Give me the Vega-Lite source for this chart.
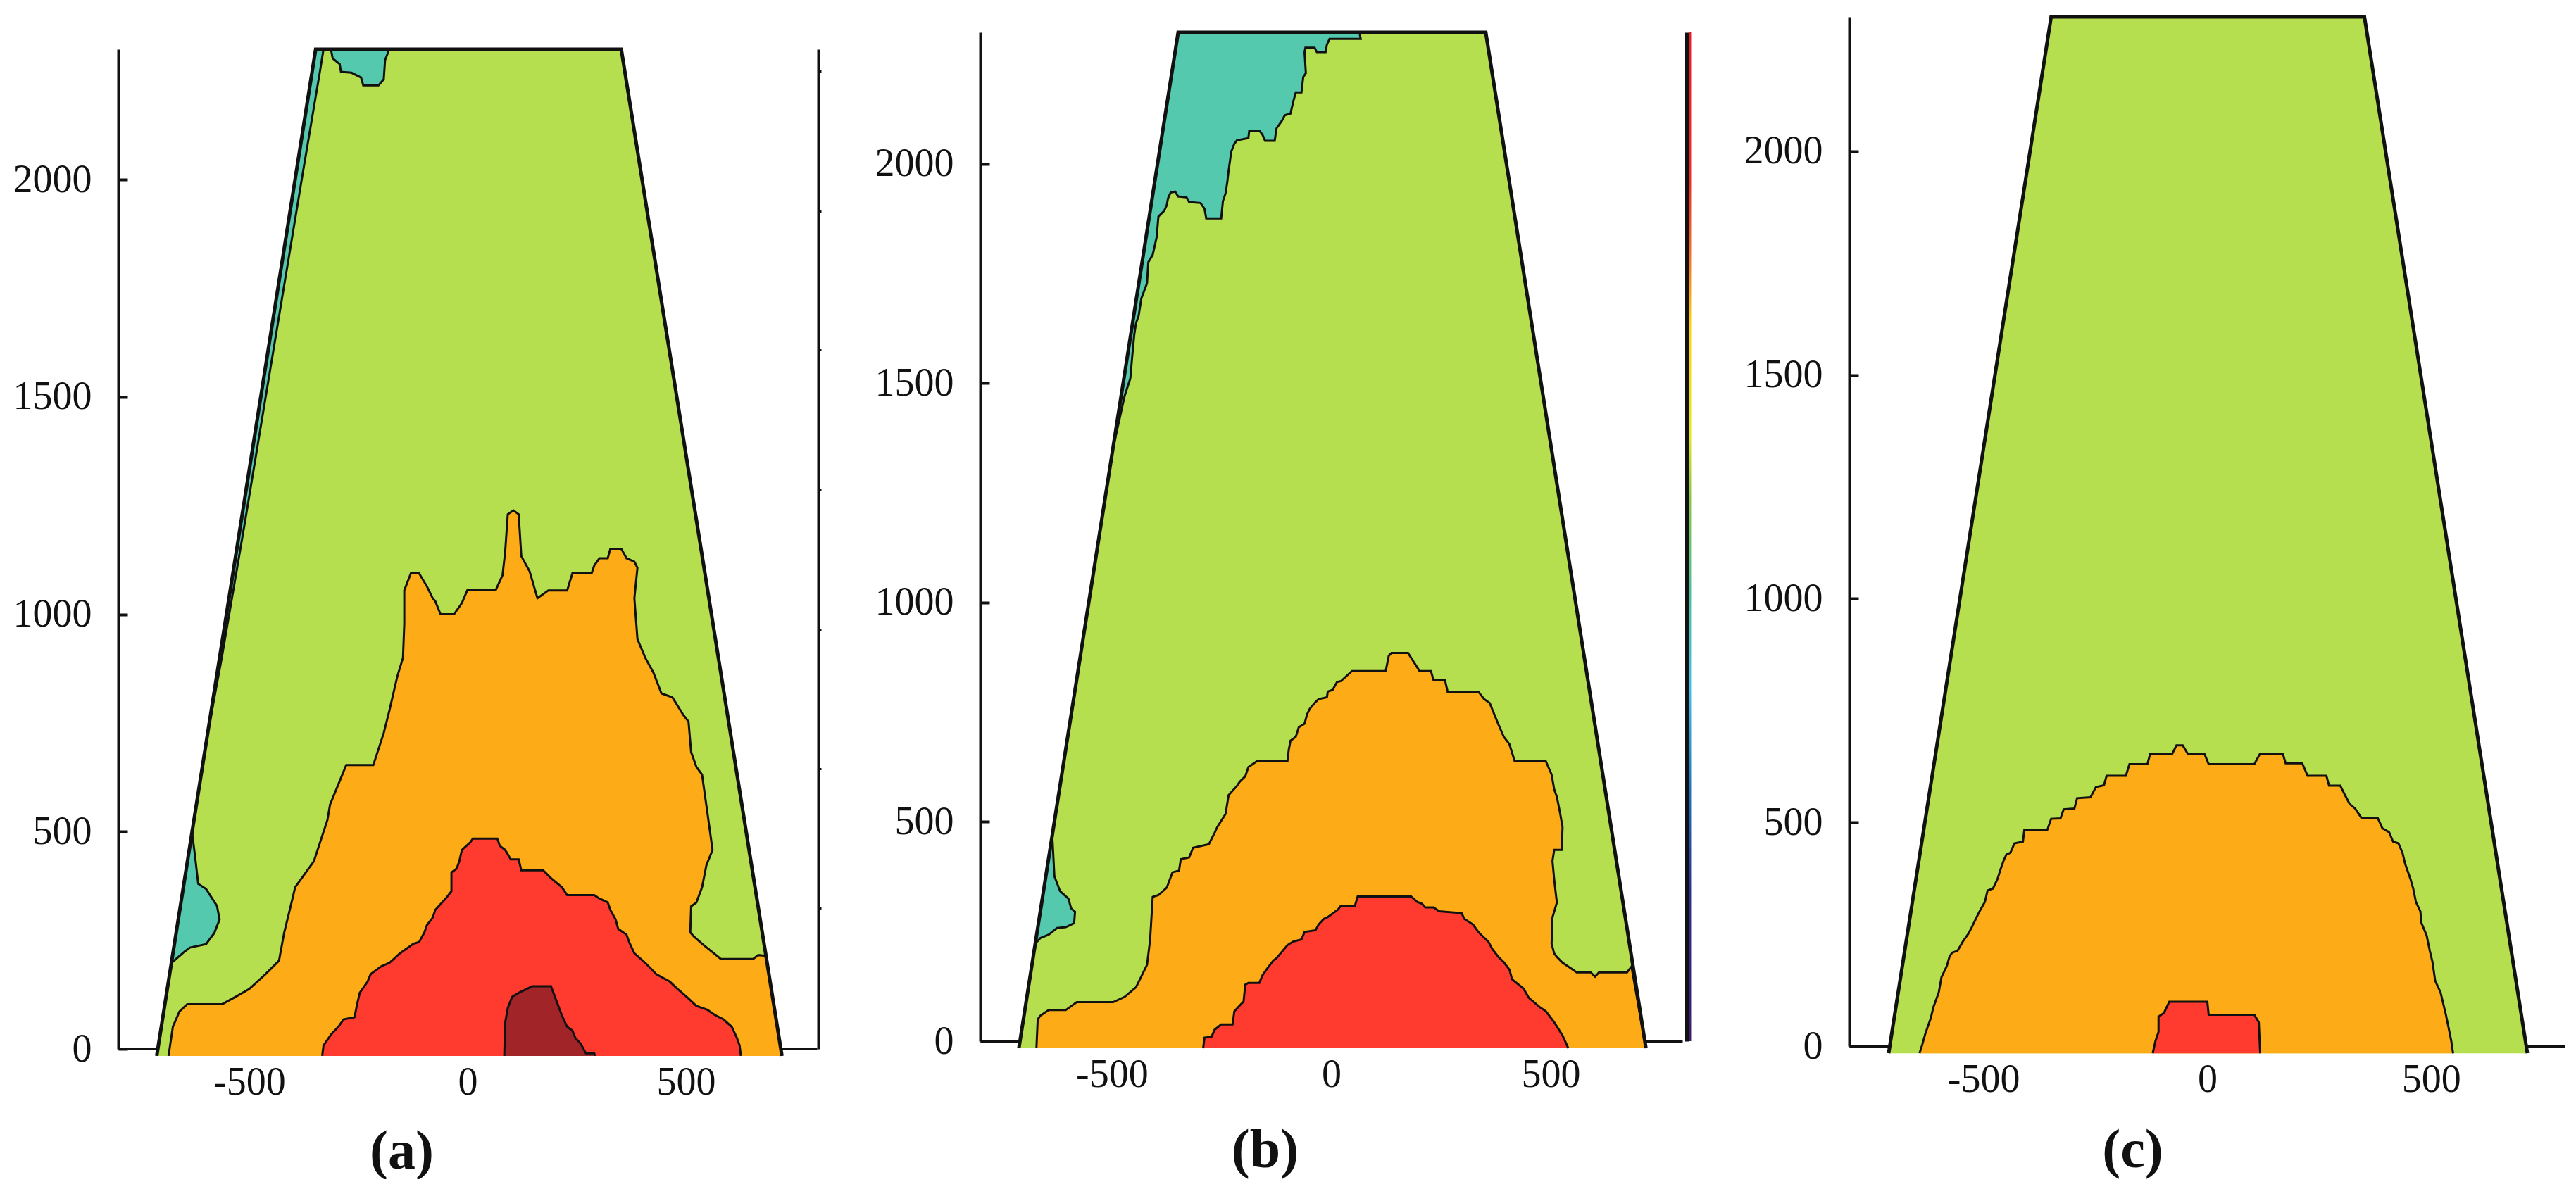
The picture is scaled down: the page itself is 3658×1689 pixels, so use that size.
{
"$schema": "https://vega.github.io/schema/vega-lite/v6.json",
"background": "white",
"padding": {"left": 18, "top": 12, "right": 0, "bottom": 0},
"spacing": 74,
"config": {"view": {"stroke": null}, "axis": {"grid": false, "labelFont": "Liberation Serif", "titleFont": "Liberation Serif", "labelColor": "#111", "titleColor": "#111", "domainColor": "#111", "tickColor": "#111"}},
"datasets": {
"A": [
{"p":"A0","l":"g","i":0,"x":-712,"y":-16},{"p":"A0","l":"g","i":1,"x":-348,"y":2300},{"p":"A0","l":"g","i":2,"x":352,"y":2300},{"p":"A0","l":"g","i":3,"x":720,"y":-16},
{"p":"A1","l":"t","i":0,"x":-348,"y":2300},{"p":"A1","l":"t","i":1,"x":-330,"y":2300},{"p":"A1","l":"t","i":2,"x":-338,"y":2250},{"p":"A1","l":"t","i":3,"x":-380,"y":2000},{"p":"A1","l":"t","i":4,"x":-446,"y":1600},{"p":"A1","l":"t","i":5,"x":-512,"y":1200},{"p":"A1","l":"t","i":6,"x":-563,"y":900},{"p":"A1","l":"t","i":7,"x":-600,"y":700},
{"p":"A2","l":"t","i":0,"x":-313,"y":2300},{"p":"A2","l":"t","i":1,"x":-309,"y":2279},{"p":"A2","l":"t","i":2,"x":-293,"y":2266},{"p":"A2","l":"t","i":3,"x":-290,"y":2248},{"p":"A2","l":"t","i":4,"x":-266,"y":2246},{"p":"A2","l":"t","i":5,"x":-244,"y":2235},{"p":"A2","l":"t","i":6,"x":-239,"y":2217},{"p":"A2","l":"t","i":7,"x":-204,"y":2217},{"p":"A2","l":"t","i":8,"x":-192,"y":2231},{"p":"A2","l":"t","i":9,"x":-189,"y":2275},{"p":"A2","l":"t","i":10,"x":-182,"y":2293},{"p":"A2","l":"t","i":11,"x":-182,"y":2300},
{"p":"A3","l":"t","i":0,"x":-632,"y":505},{"p":"A3","l":"t","i":1,"x":-625,"y":450},{"p":"A3","l":"t","i":2,"x":-617,"y":380},{"p":"A3","l":"t","i":3,"x":-599,"y":368},{"p":"A3","l":"t","i":4,"x":-574,"y":329},{"p":"A3","l":"t","i":5,"x":-568,"y":298},{"p":"A3","l":"t","i":6,"x":-580,"y":267},{"p":"A3","l":"t","i":7,"x":-599,"y":241},{"p":"A3","l":"t","i":8,"x":-636,"y":233},{"p":"A3","l":"t","i":9,"x":-648,"y":224},{"p":"A3","l":"t","i":10,"x":-678,"y":198},
{"p":"A4","l":"o","i":0,"x":-685,"y":-16},{"p":"A4","l":"o","i":1,"x":-675,"y":51},{"p":"A4","l":"o","i":2,"x":-660,"y":86},{"p":"A4","l":"o","i":3,"x":-642,"y":103},{"p":"A4","l":"o","i":4,"x":-562,"y":103},{"p":"A4","l":"o","i":5,"x":-531,"y":120},{"p":"A4","l":"o","i":6,"x":-500,"y":138},{"p":"A4","l":"o","i":7,"x":-463,"y":172},{"p":"A4","l":"o","i":8,"x":-432,"y":203},{"p":"A4","l":"o","i":9,"x":-420,"y":268},{"p":"A4","l":"o","i":10,"x":-401,"y":346},{"p":"A4","l":"o","i":11,"x":-395,"y":372},{"p":"A4","l":"o","i":12,"x":-352,"y":432},{"p":"A4","l":"o","i":13,"x":-321,"y":527},{"p":"A4","l":"o","i":14,"x":-315,"y":562},{"p":"A4","l":"o","i":15,"x":-278,"y":653},{"p":"A4","l":"o","i":16,"x":-216,"y":653},{"p":"A4","l":"o","i":17,"x":-192,"y":727},{"p":"A4","l":"o","i":18,"x":-179,"y":779},{"p":"A4","l":"o","i":19,"x":-161,"y":857},{"p":"A4","l":"o","i":20,"x":-148,"y":900},{"p":"A4","l":"o","i":21,"x":-145,"y":978},{"p":"A4","l":"o","i":22,"x":-145,"y":1055},{"p":"A4","l":"o","i":23,"x":-130,"y":1094},{"p":"A4","l":"o","i":24,"x":-111,"y":1094},{"p":"A4","l":"o","i":25,"x":-93,"y":1064},{"p":"A4","l":"o","i":26,"x":-80,"y":1037},{"p":"A4","l":"o","i":27,"x":-74,"y":1030},{"p":"A4","l":"o","i":28,"x":-62,"y":1000},{"p":"A4","l":"o","i":29,"x":-31,"y":1000},{"p":"A4","l":"o","i":30,"x":-13,"y":1026},{"p":"A4","l":"o","i":31,"x":0,"y":1057},{"p":"A4","l":"o","i":32,"x":65,"y":1057},{"p":"A4","l":"o","i":33,"x":80,"y":1090},{"p":"A4","l":"o","i":34,"x":86,"y":1143},{"p":"A4","l":"o","i":35,"x":92,"y":1230},{"p":"A4","l":"o","i":36,"x":105,"y":1239},{"p":"A4","l":"o","i":37,"x":117,"y":1230},{"p":"A4","l":"o","i":38,"x":123,"y":1134},{"p":"A4","l":"o","i":39,"x":142,"y":1099},{"p":"A4","l":"o","i":40,"x":160,"y":1037},{"p":"A4","l":"o","i":41,"x":185,"y":1055},{"p":"A4","l":"o","i":42,"x":228,"y":1055},{"p":"A4","l":"o","i":43,"x":240,"y":1094},{"p":"A4","l":"o","i":44,"x":284,"y":1094},{"p":"A4","l":"o","i":45,"x":290,"y":1112},{"p":"A4","l":"o","i":46,"x":302,"y":1129},{"p":"A4","l":"o","i":47,"x":321,"y":1129},{"p":"A4","l":"o","i":48,"x":327,"y":1151},{"p":"A4","l":"o","i":49,"x":352,"y":1151},{"p":"A4","l":"o","i":50,"x":364,"y":1129},{"p":"A4","l":"o","i":51,"x":382,"y":1121},{"p":"A4","l":"o","i":52,"x":389,"y":1107},{"p":"A4","l":"o","i":53,"x":382,"y":1037},{"p":"A4","l":"o","i":54,"x":389,"y":943},{"p":"A4","l":"o","i":55,"x":407,"y":900},{"p":"A4","l":"o","i":56,"x":426,"y":865},{"p":"A4","l":"o","i":57,"x":444,"y":818},{"p":"A4","l":"o","i":58,"x":469,"y":809},{"p":"A4","l":"o","i":59,"x":493,"y":770},{"p":"A4","l":"o","i":60,"x":506,"y":753},{"p":"A4","l":"o","i":61,"x":512,"y":683},{"p":"A4","l":"o","i":62,"x":524,"y":649},{"p":"A4","l":"o","i":63,"x":537,"y":631},{"p":"A4","l":"o","i":64,"x":543,"y":588},{"p":"A4","l":"o","i":65,"x":549,"y":545},{"p":"A4","l":"o","i":66,"x":561,"y":458},{"p":"A4","l":"o","i":67,"x":547,"y":423},{"p":"A4","l":"o","i":68,"x":537,"y":372},{"p":"A4","l":"o","i":69,"x":524,"y":337},{"p":"A4","l":"o","i":70,"x":512,"y":328},{"p":"A4","l":"o","i":71,"x":510,"y":268},{"p":"A4","l":"o","i":72,"x":518,"y":259},{"p":"A4","l":"o","i":73,"x":537,"y":242},{"p":"A4","l":"o","i":74,"x":580,"y":207},{"p":"A4","l":"o","i":75,"x":654,"y":207},{"p":"A4","l":"o","i":76,"x":666,"y":216},{"p":"A4","l":"o","i":77,"x":684,"y":214},{"p":"A4","l":"o","i":78,"x":720,"y":-16},
{"p":"A5","l":"r","i":0,"x":-333,"y":-16},{"p":"A5","l":"r","i":1,"x":-330,"y":8},{"p":"A5","l":"r","i":2,"x":-312,"y":34},{"p":"A5","l":"r","i":3,"x":-296,"y":51},{"p":"A5","l":"r","i":4,"x":-284,"y":68},{"p":"A5","l":"r","i":5,"x":-259,"y":73},{"p":"A5","l":"r","i":6,"x":-253,"y":103},{"p":"A5","l":"r","i":7,"x":-247,"y":129},{"p":"A5","l":"r","i":8,"x":-229,"y":155},{"p":"A5","l":"r","i":9,"x":-222,"y":172},{"p":"A5","l":"r","i":10,"x":-198,"y":190},{"p":"A5","l":"r","i":11,"x":-179,"y":198},{"p":"A5","l":"r","i":12,"x":-155,"y":220},{"p":"A5","l":"r","i":13,"x":-124,"y":242},{"p":"A5","l":"r","i":14,"x":-111,"y":246},{"p":"A5","l":"r","i":15,"x":-99,"y":268},{"p":"A5","l":"r","i":16,"x":-93,"y":285},{"p":"A5","l":"r","i":17,"x":-80,"y":302},{"p":"A5","l":"r","i":18,"x":-74,"y":320},{"p":"A5","l":"r","i":19,"x":-50,"y":346},{"p":"A5","l":"r","i":20,"x":-37,"y":363},{"p":"A5","l":"r","i":21,"x":-37,"y":406},{"p":"A5","l":"r","i":22,"x":-25,"y":415},{"p":"A5","l":"r","i":23,"x":-19,"y":432},{"p":"A5","l":"r","i":24,"x":-13,"y":458},{"p":"A5","l":"r","i":25,"x":6,"y":475},{"p":"A5","l":"r","i":26,"x":12,"y":484},{"p":"A5","l":"r","i":27,"x":68,"y":484},{"p":"A5","l":"r","i":28,"x":74,"y":467},{"p":"A5","l":"r","i":29,"x":86,"y":458},{"p":"A5","l":"r","i":30,"x":99,"y":436},{"p":"A5","l":"r","i":31,"x":117,"y":436},{"p":"A5","l":"r","i":32,"x":123,"y":411},{"p":"A5","l":"r","i":33,"x":173,"y":411},{"p":"A5","l":"r","i":34,"x":191,"y":393},{"p":"A5","l":"r","i":35,"x":216,"y":372},{"p":"A5","l":"r","i":36,"x":228,"y":354},{"p":"A5","l":"r","i":37,"x":290,"y":354},{"p":"A5","l":"r","i":38,"x":302,"y":346},{"p":"A5","l":"r","i":39,"x":321,"y":337},{"p":"A5","l":"r","i":40,"x":327,"y":320},{"p":"A5","l":"r","i":41,"x":339,"y":298},{"p":"A5","l":"r","i":42,"x":345,"y":276},{"p":"A5","l":"r","i":43,"x":364,"y":263},{"p":"A5","l":"r","i":44,"x":370,"y":246},{"p":"A5","l":"r","i":45,"x":382,"y":220},{"p":"A5","l":"r","i":46,"x":407,"y":198},{"p":"A5","l":"r","i":47,"x":432,"y":172},{"p":"A5","l":"r","i":48,"x":463,"y":155},{"p":"A5","l":"r","i":49,"x":481,"y":138},{"p":"A5","l":"r","i":50,"x":506,"y":116},{"p":"A5","l":"r","i":51,"x":524,"y":99},{"p":"A5","l":"r","i":52,"x":549,"y":90},{"p":"A5","l":"r","i":53,"x":568,"y":77},{"p":"A5","l":"r","i":54,"x":586,"y":68},{"p":"A5","l":"r","i":55,"x":605,"y":51},{"p":"A5","l":"r","i":56,"x":617,"y":25},{"p":"A5","l":"r","i":57,"x":623,"y":8},{"p":"A5","l":"r","i":58,"x":626,"y":-16},
{"p":"A6","l":"d","i":0,"x":84,"y":-16},{"p":"A6","l":"d","i":1,"x":86,"y":60},{"p":"A6","l":"d","i":2,"x":92,"y":94},{"p":"A6","l":"d","i":3,"x":102,"y":120},{"p":"A6","l":"d","i":4,"x":117,"y":129},{"p":"A6","l":"d","i":5,"x":148,"y":144},{"p":"A6","l":"d","i":6,"x":191,"y":144},{"p":"A6","l":"d","i":7,"x":203,"y":112},{"p":"A6","l":"d","i":8,"x":216,"y":77},{"p":"A6","l":"d","i":9,"x":228,"y":51},{"p":"A6","l":"d","i":10,"x":240,"y":42},{"p":"A6","l":"d","i":11,"x":247,"y":25},{"p":"A6","l":"d","i":12,"x":259,"y":12},{"p":"A6","l":"d","i":13,"x":271,"y":-10},{"p":"A6","l":"d","i":14,"x":290,"y":-10},{"p":"A6","l":"d","i":15,"x":292,"y":-16}
],
"B": [
{"p":"B0","l":"g","i":0,"x":-712,"y":-16},{"p":"B0","l":"g","i":1,"x":-349,"y":2300},{"p":"B0","l":"g","i":2,"x":352,"y":2300},{"p":"B0","l":"g","i":3,"x":717,"y":-16},
{"p":"B1","l":"t","i":0,"x":-349,"y":2300},{"p":"B1","l":"t","i":1,"x":64,"y":2300},{"p":"B1","l":"t","i":2,"x":67,"y":2285},{"p":"B1","l":"t","i":3,"x":-4,"y":2285},{"p":"B1","l":"t","i":4,"x":-10,"y":2272},{"p":"B1","l":"t","i":5,"x":-13,"y":2255},{"p":"B1","l":"t","i":6,"x":-33,"y":2255},{"p":"B1","l":"t","i":7,"x":-38,"y":2265},{"p":"B1","l":"t","i":8,"x":-59,"y":2265},{"p":"B1","l":"t","i":9,"x":-61,"y":2255},{"p":"B1","l":"t","i":10,"x":-58,"y":2207},{"p":"B1","l":"t","i":11,"x":-64,"y":2198},{"p":"B1","l":"t","i":12,"x":-68,"y":2163},{"p":"B1","l":"t","i":13,"x":-81,"y":2163},{"p":"B1","l":"t","i":14,"x":-87,"y":2141},{"p":"B1","l":"t","i":15,"x":-93,"y":2115},{"p":"B1","l":"t","i":16,"x":-106,"y":2111},{"p":"B1","l":"t","i":17,"x":-113,"y":2098},{"p":"B1","l":"t","i":18,"x":-125,"y":2081},{"p":"B1","l":"t","i":19,"x":-129,"y":2053},{"p":"B1","l":"t","i":20,"x":-151,"y":2053},{"p":"B1","l":"t","i":21,"x":-157,"y":2067},{"p":"B1","l":"t","i":22,"x":-164,"y":2076},{"p":"B1","l":"t","i":23,"x":-187,"y":2076},{"p":"B1","l":"t","i":24,"x":-189,"y":2059},{"p":"B1","l":"t","i":25,"x":-215,"y":2054},{"p":"B1","l":"t","i":26,"x":-221,"y":2046},{"p":"B1","l":"t","i":27,"x":-228,"y":2028},{"p":"B1","l":"t","i":28,"x":-234,"y":1985},{"p":"B1","l":"t","i":29,"x":-237,"y":1959},{"p":"B1","l":"t","i":30,"x":-241,"y":1933},{"p":"B1","l":"t","i":31,"x":-247,"y":1915},{"p":"B1","l":"t","i":32,"x":-251,"y":1876},{"p":"B1","l":"t","i":33,"x":-285,"y":1876},{"p":"B1","l":"t","i":34,"x":-289,"y":1898},{"p":"B1","l":"t","i":35,"x":-298,"y":1911},{"p":"B1","l":"t","i":36,"x":-324,"y":1913},{"p":"B1","l":"t","i":37,"x":-330,"y":1924},{"p":"B1","l":"t","i":38,"x":-349,"y":1926},{"p":"B1","l":"t","i":39,"x":-356,"y":1937},{"p":"B1","l":"t","i":40,"x":-366,"y":1935},{"p":"B1","l":"t","i":41,"x":-372,"y":1922},{"p":"B1","l":"t","i":42,"x":-375,"y":1906},{"p":"B1","l":"t","i":43,"x":-381,"y":1893},{"p":"B1","l":"t","i":44,"x":-394,"y":1880},{"p":"B1","l":"t","i":45,"x":-398,"y":1833},{"p":"B1","l":"t","i":46,"x":-407,"y":1793},{"p":"B1","l":"t","i":47,"x":-417,"y":1776},{"p":"B1","l":"t","i":48,"x":-420,"y":1728},{"p":"B1","l":"t","i":49,"x":-433,"y":1693},{"p":"B1","l":"t","i":50,"x":-439,"y":1654},{"p":"B1","l":"t","i":51,"x":-445,"y":1637},{"p":"B1","l":"t","i":52,"x":-449,"y":1611},{"p":"B1","l":"t","i":53,"x":-454,"y":1558},{"p":"B1","l":"t","i":54,"x":-458,"y":1511},{"p":"B1","l":"t","i":55,"x":-471,"y":1471},{"p":"B1","l":"t","i":56,"x":-500,"y":1340},
{"p":"B2","l":"t","i":0,"x":-636,"y":471},{"p":"B2","l":"t","i":1,"x":-631,"y":376},{"p":"B2","l":"t","i":2,"x":-618,"y":342},{"p":"B2","l":"t","i":3,"x":-599,"y":325},{"p":"B2","l":"t","i":4,"x":-593,"y":303},{"p":"B2","l":"t","i":5,"x":-584,"y":295},{"p":"B2","l":"t","i":6,"x":-586,"y":269},{"p":"B2","l":"t","i":7,"x":-605,"y":260},{"p":"B2","l":"t","i":8,"x":-625,"y":258},{"p":"B2","l":"t","i":9,"x":-644,"y":243},{"p":"B2","l":"t","i":10,"x":-663,"y":235},{"p":"B2","l":"t","i":11,"x":-675,"y":222},
{"p":"B3","l":"o","i":0,"x":-672,"y":-16},{"p":"B3","l":"o","i":1,"x":-669,"y":50},{"p":"B3","l":"o","i":2,"x":-663,"y":58},{"p":"B3","l":"o","i":3,"x":-644,"y":71},{"p":"B3","l":"o","i":4,"x":-605,"y":71},{"p":"B3","l":"o","i":5,"x":-580,"y":89},{"p":"B3","l":"o","i":6,"x":-497,"y":89},{"p":"B3","l":"o","i":7,"x":-471,"y":101},{"p":"B3","l":"o","i":8,"x":-445,"y":123},{"p":"B3","l":"o","i":9,"x":-420,"y":174},{"p":"B3","l":"o","i":10,"x":-413,"y":230},{"p":"B3","l":"o","i":11,"x":-407,"y":329},{"p":"B3","l":"o","i":12,"x":-394,"y":333},{"p":"B3","l":"o","i":13,"x":-375,"y":350},{"p":"B3","l":"o","i":14,"x":-362,"y":385},{"p":"B3","l":"o","i":15,"x":-347,"y":389},{"p":"B3","l":"o","i":16,"x":-343,"y":415},{"p":"B3","l":"o","i":17,"x":-324,"y":419},{"p":"B3","l":"o","i":18,"x":-315,"y":441},{"p":"B3","l":"o","i":19,"x":-279,"y":449},{"p":"B3","l":"o","i":20,"x":-266,"y":475},{"p":"B3","l":"o","i":21,"x":-260,"y":488},{"p":"B3","l":"o","i":22,"x":-241,"y":518},{"p":"B3","l":"o","i":23,"x":-234,"y":561},{"p":"B3","l":"o","i":24,"x":-215,"y":582},{"p":"B3","l":"o","i":25,"x":-209,"y":591},{"p":"B3","l":"o","i":26,"x":-196,"y":604},{"p":"B3","l":"o","i":27,"x":-189,"y":625},{"p":"B3","l":"o","i":28,"x":-170,"y":638},{"p":"B3","l":"o","i":29,"x":-100,"y":638},{"p":"B3","l":"o","i":30,"x":-97,"y":664},{"p":"B3","l":"o","i":31,"x":-93,"y":685},{"p":"B3","l":"o","i":32,"x":-81,"y":694},{"p":"B3","l":"o","i":33,"x":-74,"y":716},{"p":"B3","l":"o","i":34,"x":-61,"y":724},{"p":"B3","l":"o","i":35,"x":-55,"y":746},{"p":"B3","l":"o","i":36,"x":-49,"y":758},{"p":"B3","l":"o","i":37,"x":-36,"y":773},{"p":"B3","l":"o","i":38,"x":-29,"y":780},{"p":"B3","l":"o","i":39,"x":-10,"y":784},{"p":"B3","l":"o","i":40,"x":-8,"y":797},{"p":"B3","l":"o","i":41,"x":3,"y":801},{"p":"B3","l":"o","i":42,"x":13,"y":819},{"p":"B3","l":"o","i":43,"x":22,"y":821},{"p":"B3","l":"o","i":44,"x":47,"y":844},{"p":"B3","l":"o","i":45,"x":124,"y":844},{"p":"B3","l":"o","i":46,"x":131,"y":879},{"p":"B3","l":"o","i":47,"x":137,"y":885},{"p":"B3","l":"o","i":48,"x":175,"y":885},{"p":"B3","l":"o","i":49,"x":182,"y":874},{"p":"B3","l":"o","i":50,"x":201,"y":844},{"p":"B3","l":"o","i":51,"x":227,"y":844},{"p":"B3","l":"o","i":52,"x":233,"y":823},{"p":"B3","l":"o","i":53,"x":259,"y":823},{"p":"B3","l":"o","i":54,"x":265,"y":797},{"p":"B3","l":"o","i":55,"x":335,"y":797},{"p":"B3","l":"o","i":56,"x":348,"y":780},{"p":"B3","l":"o","i":57,"x":361,"y":771},{"p":"B3","l":"o","i":58,"x":380,"y":724},{"p":"B3","l":"o","i":59,"x":393,"y":694},{"p":"B3","l":"o","i":60,"x":406,"y":677},{"p":"B3","l":"o","i":61,"x":418,"y":638},{"p":"B3","l":"o","i":62,"x":489,"y":638},{"p":"B3","l":"o","i":63,"x":502,"y":608},{"p":"B3","l":"o","i":64,"x":508,"y":574},{"p":"B3","l":"o","i":65,"x":514,"y":557},{"p":"B3","l":"o","i":66,"x":521,"y":522},{"p":"B3","l":"o","i":67,"x":527,"y":488},{"p":"B3","l":"o","i":68,"x":525,"y":436},{"p":"B3","l":"o","i":69,"x":508,"y":436},{"p":"B3","l":"o","i":70,"x":504,"y":411},{"p":"B3","l":"o","i":71,"x":508,"y":368},{"p":"B3","l":"o","i":72,"x":514,"y":316},{"p":"B3","l":"o","i":73,"x":504,"y":282},{"p":"B3","l":"o","i":74,"x":502,"y":222},{"p":"B3","l":"o","i":75,"x":508,"y":200},{"p":"B3","l":"o","i":76,"x":514,"y":192},{"p":"B3","l":"o","i":77,"x":527,"y":179},{"p":"B3","l":"o","i":78,"x":546,"y":166},{"p":"B3","l":"o","i":79,"x":559,"y":157},{"p":"B3","l":"o","i":80,"x":591,"y":157},{"p":"B3","l":"o","i":81,"x":601,"y":147},{"p":"B3","l":"o","i":82,"x":610,"y":157},{"p":"B3","l":"o","i":83,"x":674,"y":157},{"p":"B3","l":"o","i":84,"x":684,"y":170},{"p":"B3","l":"o","i":85,"x":717,"y":-16},
{"p":"B4","l":"r","i":0,"x":-292,"y":-16},{"p":"B4","l":"r","i":1,"x":-289,"y":8},{"p":"B4","l":"r","i":2,"x":-273,"y":10},{"p":"B4","l":"r","i":3,"x":-266,"y":26},{"p":"B4","l":"r","i":4,"x":-251,"y":38},{"p":"B4","l":"r","i":5,"x":-225,"y":38},{"p":"B4","l":"r","i":6,"x":-221,"y":68},{"p":"B4","l":"r","i":7,"x":-209,"y":81},{"p":"B4","l":"r","i":8,"x":-200,"y":90},{"p":"B4","l":"r","i":9,"x":-196,"y":129},{"p":"B4","l":"r","i":10,"x":-189,"y":133},{"p":"B4","l":"r","i":11,"x":-164,"y":133},{"p":"B4","l":"r","i":12,"x":-157,"y":150},{"p":"B4","l":"r","i":13,"x":-145,"y":167},{"p":"B4","l":"r","i":14,"x":-132,"y":184},{"p":"B4","l":"r","i":15,"x":-125,"y":189},{"p":"B4","l":"r","i":16,"x":-100,"y":219},{"p":"B4","l":"r","i":17,"x":-87,"y":227},{"p":"B4","l":"r","i":18,"x":-68,"y":232},{"p":"B4","l":"r","i":19,"x":-61,"y":249},{"p":"B4","l":"r","i":20,"x":-36,"y":253},{"p":"B4","l":"r","i":21,"x":-29,"y":266},{"p":"B4","l":"r","i":22,"x":-17,"y":279},{"p":"B4","l":"r","i":23,"x":-8,"y":283},{"p":"B4","l":"r","i":24,"x":15,"y":300},{"p":"B4","l":"r","i":25,"x":22,"y":309},{"p":"B4","l":"r","i":26,"x":54,"y":309},{"p":"B4","l":"r","i":27,"x":60,"y":330},{"p":"B4","l":"r","i":28,"x":182,"y":330},{"p":"B4","l":"r","i":29,"x":195,"y":318},{"p":"B4","l":"r","i":30,"x":207,"y":313},{"p":"B4","l":"r","i":31,"x":214,"y":305},{"p":"B4","l":"r","i":32,"x":233,"y":305},{"p":"B4","l":"r","i":33,"x":246,"y":296},{"p":"B4","l":"r","i":34,"x":297,"y":292},{"p":"B4","l":"r","i":35,"x":303,"y":279},{"p":"B4","l":"r","i":36,"x":323,"y":266},{"p":"B4","l":"r","i":37,"x":335,"y":249},{"p":"B4","l":"r","i":38,"x":348,"y":236},{"p":"B4","l":"r","i":39,"x":358,"y":227},{"p":"B4","l":"r","i":40,"x":367,"y":210},{"p":"B4","l":"r","i":41,"x":380,"y":193},{"p":"B4","l":"r","i":42,"x":393,"y":180},{"p":"B4","l":"r","i":43,"x":406,"y":163},{"p":"B4","l":"r","i":44,"x":412,"y":141},{"p":"B4","l":"r","i":45,"x":438,"y":120},{"p":"B4","l":"r","i":46,"x":450,"y":99},{"p":"B4","l":"r","i":47,"x":476,"y":77},{"p":"B4","l":"r","i":48,"x":489,"y":68},{"p":"B4","l":"r","i":49,"x":508,"y":43},{"p":"B4","l":"r","i":50,"x":527,"y":13},{"p":"B4","l":"r","i":51,"x":540,"y":-16}
],
"C": [
{"p":"C0","l":"g","i":0,"x":-712,"y":-16},{"p":"C0","l":"g","i":1,"x":-349,"y":2300},{"p":"C0","l":"g","i":2,"x":351,"y":2300},{"p":"C0","l":"g","i":3,"x":715,"y":-16},
{"p":"C1","l":"o","i":0,"x":-643,"y":-16},{"p":"C1","l":"o","i":1,"x":-637,"y":3},{"p":"C1","l":"o","i":2,"x":-630,"y":28},{"p":"C1","l":"o","i":3,"x":-618,"y":62},{"p":"C1","l":"o","i":4,"x":-612,"y":87},{"p":"C1","l":"o","i":5,"x":-600,"y":120},{"p":"C1","l":"o","i":6,"x":-594,"y":154},{"p":"C1","l":"o","i":7,"x":-582,"y":179},{"p":"C1","l":"o","i":8,"x":-576,"y":200},{"p":"C1","l":"o","i":9,"x":-570,"y":209},{"p":"C1","l":"o","i":10,"x":-558,"y":213},{"p":"C1","l":"o","i":11,"x":-546,"y":234},{"p":"C1","l":"o","i":12,"x":-534,"y":251},{"p":"C1","l":"o","i":13,"x":-527,"y":264},{"p":"C1","l":"o","i":14,"x":-515,"y":289},{"p":"C1","l":"o","i":15,"x":-509,"y":301},{"p":"C1","l":"o","i":16,"x":-497,"y":322},{"p":"C1","l":"o","i":17,"x":-491,"y":348},{"p":"C1","l":"o","i":18,"x":-479,"y":352},{"p":"C1","l":"o","i":19,"x":-469,"y":373},{"p":"C1","l":"o","i":20,"x":-461,"y":398},{"p":"C1","l":"o","i":21,"x":-455,"y":415},{"p":"C1","l":"o","i":22,"x":-449,"y":428},{"p":"C1","l":"o","i":23,"x":-440,"y":432},{"p":"C1","l":"o","i":24,"x":-431,"y":453},{"p":"C1","l":"o","i":25,"x":-412,"y":457},{"p":"C1","l":"o","i":26,"x":-409,"y":482},{"p":"C1","l":"o","i":27,"x":-358,"y":482},{"p":"C1","l":"o","i":28,"x":-349,"y":508},{"p":"C1","l":"o","i":29,"x":-328,"y":509},{"p":"C1","l":"o","i":30,"x":-321,"y":529},{"p":"C1","l":"o","i":31,"x":-297,"y":531},{"p":"C1","l":"o","i":32,"x":-291,"y":554},{"p":"C1","l":"o","i":33,"x":-261,"y":556},{"p":"C1","l":"o","i":34,"x":-249,"y":579},{"p":"C1","l":"o","i":35,"x":-231,"y":583},{"p":"C1","l":"o","i":36,"x":-225,"y":604},{"p":"C1","l":"o","i":37,"x":-182,"y":604},{"p":"C1","l":"o","i":38,"x":-174,"y":630},{"p":"C1","l":"o","i":39,"x":-134,"y":630},{"p":"C1","l":"o","i":40,"x":-128,"y":652},{"p":"C1","l":"o","i":41,"x":-79,"y":652},{"p":"C1","l":"o","i":42,"x":-69,"y":672},{"p":"C1","l":"o","i":43,"x":-55,"y":672},{"p":"C1","l":"o","i":44,"x":-43,"y":652},{"p":"C1","l":"o","i":45,"x":-6,"y":652},{"p":"C1","l":"o","i":46,"x":3,"y":630},{"p":"C1","l":"o","i":47,"x":105,"y":630},{"p":"C1","l":"o","i":48,"x":117,"y":652},{"p":"C1","l":"o","i":49,"x":169,"y":652},{"p":"C1","l":"o","i":50,"x":175,"y":632},{"p":"C1","l":"o","i":51,"x":212,"y":632},{"p":"C1","l":"o","i":52,"x":224,"y":604},{"p":"C1","l":"o","i":53,"x":266,"y":604},{"p":"C1","l":"o","i":54,"x":272,"y":582},{"p":"C1","l":"o","i":55,"x":297,"y":582},{"p":"C1","l":"o","i":56,"x":309,"y":558},{"p":"C1","l":"o","i":57,"x":318,"y":541},{"p":"C1","l":"o","i":58,"x":330,"y":531},{"p":"C1","l":"o","i":59,"x":345,"y":509},{"p":"C1","l":"o","i":60,"x":381,"y":509},{"p":"C1","l":"o","i":61,"x":391,"y":487},{"p":"C1","l":"o","i":62,"x":406,"y":478},{"p":"C1","l":"o","i":63,"x":415,"y":457},{"p":"C1","l":"o","i":64,"x":427,"y":453},{"p":"C1","l":"o","i":65,"x":436,"y":432},{"p":"C1","l":"o","i":66,"x":442,"y":407},{"p":"C1","l":"o","i":67,"x":454,"y":373},{"p":"C1","l":"o","i":68,"x":460,"y":352},{"p":"C1","l":"o","i":69,"x":466,"y":322},{"p":"C1","l":"o","i":70,"x":476,"y":301},{"p":"C1","l":"o","i":71,"x":478,"y":276},{"p":"C1","l":"o","i":72,"x":490,"y":247},{"p":"C1","l":"o","i":73,"x":497,"y":213},{"p":"C1","l":"o","i":74,"x":503,"y":188},{"p":"C1","l":"o","i":75,"x":509,"y":146},{"p":"C1","l":"o","i":76,"x":521,"y":120},{"p":"C1","l":"o","i":77,"x":533,"y":70},{"p":"C1","l":"o","i":78,"x":539,"y":41},{"p":"C1","l":"o","i":79,"x":545,"y":11},{"p":"C1","l":"o","i":80,"x":549,"y":-16},
{"p":"C2","l":"r","i":0,"x":-122,"y":-16},{"p":"C2","l":"r","i":1,"x":-116,"y":11},{"p":"C2","l":"r","i":2,"x":-109,"y":32},{"p":"C2","l":"r","i":3,"x":-109,"y":66},{"p":"C2","l":"r","i":4,"x":-97,"y":74},{"p":"C2","l":"r","i":5,"x":-85,"y":99},{"p":"C2","l":"r","i":6,"x":0,"y":99},{"p":"C2","l":"r","i":7,"x":3,"y":70},{"p":"C2","l":"r","i":8,"x":105,"y":70},{"p":"C2","l":"r","i":9,"x":115,"y":53},{"p":"C2","l":"r","i":10,"x":118,"y":-16}
]
},
"hconcat": [
{"spacing": 0, "vconcat": [
{"width": 10, "height": 48, "data": {"values": []}, "mark": "point"},
{
"width": 992, "height": 1420,
"data": {"name": "A"},
"resolve": {"axis": {"y": "independent"}},
"layer": [
{"transform": [{"filter": "datum.l === 'g'"}], "mark": {"type": "line", "fill": "#B5DF4F", "strokeOpacity": 0, "clip": false},
 "encoding": {"x": {"field": "x", "type": "quantitative", "scale": {"domain": [-800, 800], "nice": false, "zero": false},
   "axis": {"values": [-500, 0, 500], "labelExpr": "'' + datum.value", "ticks": false, "domainWidth": 3, "labelPadding": 20, "labelFontSize": 56, "labelFlush": false, "title": "(a)", "titleFontSize": 78, "titleFontWeight": "bold", "titleX": 402, "titleY": 146, "titleBaseline": "middle", "titleAlign": "center"}},
  "y": {"field": "y", "type": "quantitative", "scale": {"domain": [0, 2300], "nice": false, "zero": false},
   "axis": {"orient": "left", "values": [0, 500, 1000, 1500, 2000], "labelExpr": "'' + datum.value", "tickSize": -13, "tickWidth": 4, "domainWidth": 4, "labelPadding": 51, "labelFontSize": 56, "labelFlush": false, "title": null}},
  "detail": {"field": "p"}, "order": {"field": "i", "type": "quantitative"}}},
{"transform": [{"filter": "datum.l === 't'"}], "mark": {"type": "line", "fill": "#55C9AE", "stroke": "#111", "strokeWidth": 3, "clip": false},
 "encoding": {"x": {"field": "x", "type": "quantitative"}, "y": {"field": "y", "type": "quantitative", "axis": null}, "detail": {"field": "p"}, "order": {"field": "i", "type": "quantitative"}}},
{"transform": [{"filter": "datum.l === 'o'"}], "mark": {"type": "line", "fill": "#FDAB17", "stroke": "#111", "strokeWidth": 3, "clip": false},
 "encoding": {"x": {"field": "x", "type": "quantitative"}, "y": {"field": "y", "type": "quantitative", "axis": null}, "detail": {"field": "p"}, "order": {"field": "i", "type": "quantitative"}}},
{"transform": [{"filter": "datum.l === 'r'"}], "mark": {"type": "line", "fill": "#FF3B2F", "stroke": "#111", "strokeWidth": 3, "clip": false},
 "encoding": {"x": {"field": "x", "type": "quantitative"}, "y": {"field": "y", "type": "quantitative", "axis": null}, "detail": {"field": "p"}, "order": {"field": "i", "type": "quantitative"}}},
{"transform": [{"filter": "datum.l === 'd'"}], "mark": {"type": "line", "fill": "#A12429", "stroke": "#111", "strokeWidth": 3, "clip": false},
 "encoding": {"x": {"field": "x", "type": "quantitative"}, "y": {"field": "y", "type": "quantitative", "axis": null}, "detail": {"field": "p"}, "order": {"field": "i", "type": "quantitative"}}},
{"transform": [{"filter": "datum.l === 'g'"}], "mark": {"type": "line", "stroke": "#111", "strokeWidth": 5, "clip": false},
 "encoding": {"x": {"field": "x", "type": "quantitative"},
  "y": {"field": "y", "type": "quantitative", "axis": {"orient": "right", "values": [324, 645, 966, 1287, 1608, 1928, 2249], "labels": false, "tickSize": 4, "tickWidth": 3, "domainWidth": 4, "offset": 2, "title": null}},
  "detail": {"field": "p"}, "order": {"field": "i", "type": "quantitative"}}}
]
}
]},
{"spacing": 0, "vconcat": [
{"width": 10, "height": 24, "data": {"values": []}, "mark": "point"},
{
"width": 997, "height": 1433,
"data": {"name": "B"},
"resolve": {"axis": {"y": "independent"}},
"layer": [
{"transform": [{"filter": "datum.l === 'g'"}], "mark": {"type": "line", "fill": "#B5DF4F", "strokeOpacity": 0, "clip": false},
 "encoding": {"x": {"field": "x", "type": "quantitative", "scale": {"domain": [-800, 800], "nice": false, "zero": false},
   "axis": {"values": [-500, 0, 500], "labelExpr": "'' + datum.value", "ticks": false, "domainWidth": 3, "labelPadding": 20, "labelFontSize": 56, "labelFlush": false, "title": "(b)", "titleFontSize": 78, "titleFontWeight": "bold", "titleX": 404, "titleY": 155, "titleBaseline": "middle", "titleAlign": "center"}},
  "y": {"field": "y", "type": "quantitative", "scale": {"domain": [0, 2300], "nice": false, "zero": false},
   "axis": {"orient": "left", "values": [0, 500, 1000, 1500, 2000], "labelExpr": "'' + datum.value", "tickSize": -13, "tickWidth": 4, "domainWidth": 4, "labelPadding": 51, "labelFontSize": 56, "labelFlush": false, "title": null}},
  "detail": {"field": "p"}, "order": {"field": "i", "type": "quantitative"}}},
{"transform": [{"filter": "datum.l === 't'"}], "mark": {"type": "line", "fill": "#55C9AE", "stroke": "#111", "strokeWidth": 3, "clip": false},
 "encoding": {"x": {"field": "x", "type": "quantitative"}, "y": {"field": "y", "type": "quantitative", "axis": null}, "detail": {"field": "p"}, "order": {"field": "i", "type": "quantitative"}}},
{"transform": [{"filter": "datum.l === 'o'"}], "mark": {"type": "line", "fill": "#FDAB17", "stroke": "#111", "strokeWidth": 3, "clip": false},
 "encoding": {"x": {"field": "x", "type": "quantitative"}, "y": {"field": "y", "type": "quantitative", "axis": null}, "detail": {"field": "p"}, "order": {"field": "i", "type": "quantitative"}}},
{"transform": [{"filter": "datum.l === 'r'"}], "mark": {"type": "line", "fill": "#FF3B2F", "stroke": "#111", "strokeWidth": 3, "clip": false},
 "encoding": {"x": {"field": "x", "type": "quantitative"}, "y": {"field": "y", "type": "quantitative", "axis": null}, "detail": {"field": "p"}, "order": {"field": "i", "type": "quantitative"}}},
{"transform": [{"filter": "datum.l === 'g'"}], "mark": {"type": "line", "stroke": "#111", "strokeWidth": 5, "clip": false},
 "encoding": {"x": {"field": "x", "type": "quantitative"},
  "y": {"field": "y", "type": "quantitative", "axis": {"orient": "right", "values": [324, 645, 966, 1287, 1608, 1928, 2249], "labels": false, "tickSize": 4, "tickWidth": 3, "domainWidth": 5, "offset": 6, "title": null}},
  "detail": {"field": "p"}, "order": {"field": "i", "type": "quantitative"}}},
{"data": {"values": [{}]},
 "mark": {"type": "rect", "clip": false, "fill": {"gradient": "linear", "x1": 0, "y1": 0, "x2": 0, "y2": 1, "stops": [{"offset": 0, "color": "#e41e26"}, {"offset": 0.15, "color": "#ee2d24"}, {"offset": 0.22, "color": "#f36f21"}, {"offset": 0.29, "color": "#fdd10c"}, {"offset": 0.4, "color": "#e4e51c"}, {"offset": 0.46, "color": "#8cc63f"}, {"offset": 0.55, "color": "#4dbf9a"}, {"offset": 0.65, "color": "#3fc1e6"}, {"offset": 0.75, "color": "#1c75bc"}, {"offset": 0.85, "color": "#2e3192"}, {"offset": 1, "color": "#3c1c6e"}]}},
 "encoding": {"x": {"datum": 816}, "x2": {"datum": 820}, "y": {"datum": 0, "axis": null}, "y2": {"datum": 2300}}}
]
}
]},
{"spacing": 0, "vconcat": [
{"width": 10, "height": 2, "data": {"values": []}, "mark": "point"},
{
"width": 1017, "height": 1462,
"data": {"name": "C"},
"resolve": {"axis": {"y": "independent"}},
"layer": [
{"transform": [{"filter": "datum.l === 'g'"}], "mark": {"type": "line", "fill": "#B5DF4F", "strokeOpacity": 0, "clip": false},
 "encoding": {"x": {"field": "x", "type": "quantitative", "scale": {"domain": [-800, 800], "nice": false, "zero": false},
   "axis": {"values": [-500, 0, 500], "labelExpr": "'' + datum.value", "ticks": false, "domainWidth": 3, "labelPadding": 20, "labelFontSize": 56, "labelFlush": false, "title": "(c)", "titleFontSize": 78, "titleFontWeight": "bold", "titleX": 402, "titleY": 148, "titleBaseline": "middle", "titleAlign": "center"}},
  "y": {"field": "y", "type": "quantitative", "scale": {"domain": [0, 2300], "nice": false, "zero": false},
   "axis": {"orient": "left", "values": [0, 500, 1000, 1500, 2000], "labelExpr": "'' + datum.value", "tickSize": -13, "tickWidth": 4, "domainWidth": 4, "labelPadding": 51, "labelFontSize": 56, "labelFlush": false, "title": null}},
  "detail": {"field": "p"}, "order": {"field": "i", "type": "quantitative"}}},
{"transform": [{"filter": "datum.l === 'o'"}], "mark": {"type": "line", "fill": "#FDAB17", "stroke": "#111", "strokeWidth": 3, "clip": false},
 "encoding": {"x": {"field": "x", "type": "quantitative"}, "y": {"field": "y", "type": "quantitative", "axis": null}, "detail": {"field": "p"}, "order": {"field": "i", "type": "quantitative"}}},
{"transform": [{"filter": "datum.l === 'r'"}], "mark": {"type": "line", "fill": "#FF3B2F", "stroke": "#111", "strokeWidth": 3, "clip": false},
 "encoding": {"x": {"field": "x", "type": "quantitative"}, "y": {"field": "y", "type": "quantitative", "axis": null}, "detail": {"field": "p"}, "order": {"field": "i", "type": "quantitative"}}},
{"transform": [{"filter": "datum.l === 'g'"}], "mark": {"type": "line", "stroke": "#111", "strokeWidth": 5, "clip": false},
 "encoding": {"x": {"field": "x", "type": "quantitative"}, "y": {"field": "y", "type": "quantitative", "axis": null},
  "detail": {"field": "p"}, "order": {"field": "i", "type": "quantitative"}}}
]
}
]}
]
}
